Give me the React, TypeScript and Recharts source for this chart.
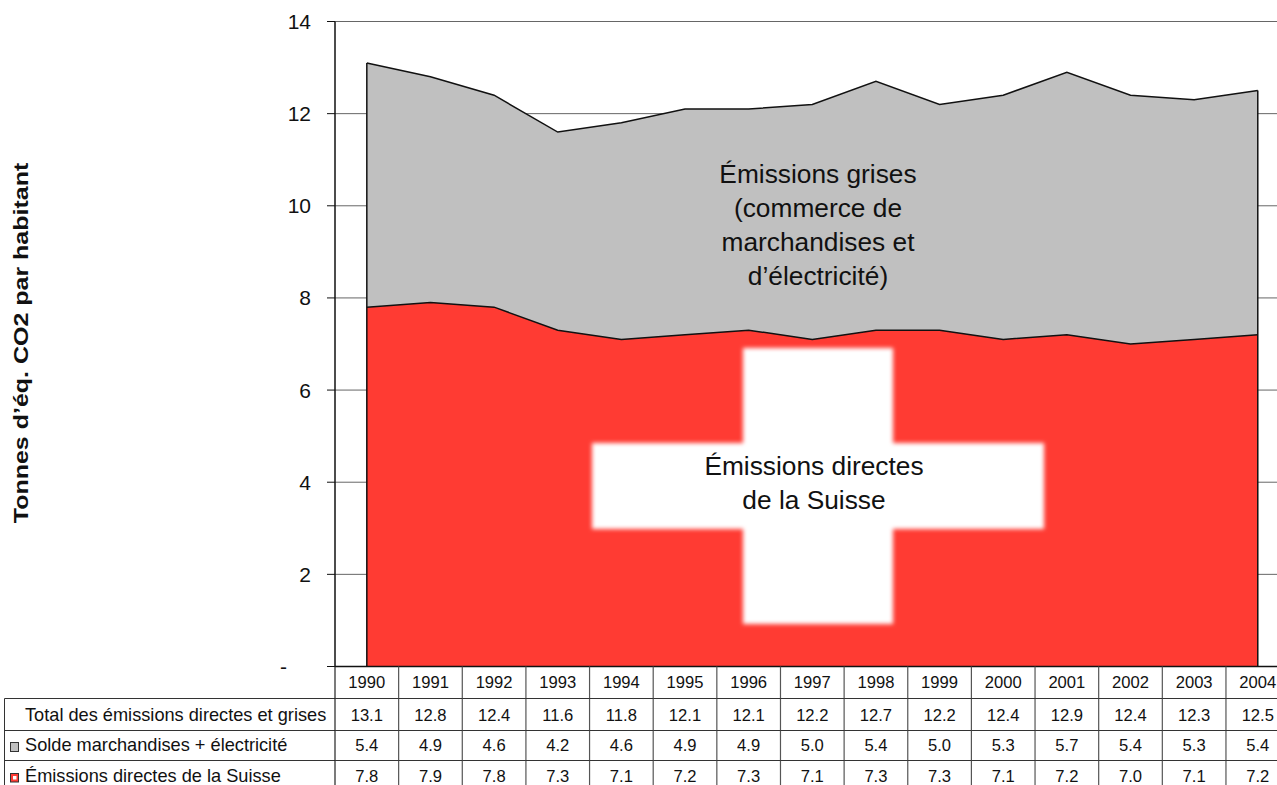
import {
  Area,
  AreaChart,
  CartesianGrid,
  ReferenceLine,
  XAxis,
  YAxis,
} from "recharts"

const years = ["1990", "1991", "1992", "1993", "1994", "1995", "1996", "1997", "1998", "1999", "2000", "2001", "2002", "2003", "2004"]
const totalValues = [13.1, 12.8, 12.4, 11.6, 11.8, 12.1, 12.1, 12.2, 12.7, 12.2, 12.4, 12.9, 12.4, 12.3, 12.5]
const balanceValues = [5.4, 4.9, 4.6, 4.2, 4.6, 4.9, 4.9, 5.0, 5.4, 5.0, 5.3, 5.7, 5.4, 5.3, 5.4]
const directValues = [7.8, 7.9, 7.8, 7.3, 7.1, 7.2, 7.3, 7.1, 7.3, 7.3, 7.1, 7.2, 7.0, 7.1, 7.2]
const yTicks = [0, 2, 4, 6, 8, 10, 12, 14]

const data = years.map((year, i) => ({
  year,
  total: totalValues[i],
  direct: directValues[i],
}))

const FONT = '"Liberation Sans", Arial, sans-serif'
const GREY = "#c0c0c0"
const RED = "#ff3b33"
const LINE = "#555555"
const COL_W = 63.64
const PLOT_LEFT = 335
const PLOT_BOTTOM = 666.5
// row edges of the data table, relative to the plot bottom
const ROW_EDGES = [0, 32, 64, 94, 130]
const ROW_TEXT = [21.5, 54, 84.5, 115]

// One table column, hung on the x axis so it follows the category scale
function TableColumn(props: any) {
  const { x, payload, index } = props
  const left = x - COL_W / 2
  const right = x + COL_W / 2
  const cells = [
    payload.value,
    totalValues[index].toFixed(1),
    balanceValues[index].toFixed(1),
    directValues[index].toFixed(1),
  ]
  return (
    <g>
      <line x1={right} x2={right} y1={PLOT_BOTTOM} y2={PLOT_BOTTOM + 130} stroke={LINE} strokeWidth={1.2} />
      {index === 0 ? (
        <line x1={left} x2={left} y1={PLOT_BOTTOM} y2={PLOT_BOTTOM + 130} stroke="#222" strokeWidth={1.2} />
      ) : null}
      {ROW_EDGES.slice(1, 4).map((e) => (
        <line key={e} x1={left} x2={right} y1={PLOT_BOTTOM + e} y2={PLOT_BOTTOM + e} stroke="#333" strokeWidth={1} />
      ))}
      {cells.map((c, r) => (
        <text key={r} x={x} y={PLOT_BOTTOM + ROW_TEXT[r]} textAnchor="middle" fontSize={16.6} fill="#111" fontFamily={FONT}>
          {c}
        </text>
      ))}
    </g>
  )
}

// The zero tick is a dash set further left, accounting style
function ValueTick(props: any) {
  const { x, y, payload } = props
  const isZero = payload.value === 0
  return (
    <text
      x={isZero ? x - 24 : x}
      y={y + 7.5}
      textAnchor="end"
      fontSize={21}
      fill="#111"
      fontFamily={FONT}
    >
      {isZero ? "-" : payload.value}
    </text>
  )
}

function RowHeaders() {
  const top = PLOT_BOTTOM + ROW_EDGES[1]
  return (
    <g fontFamily={FONT} fontSize={18.2} fill="#111">
      <line x1={4.5} x2={PLOT_LEFT} y1={top} y2={top} stroke="#333" />
      <line x1={4.5} x2={PLOT_LEFT} y1={PLOT_BOTTOM + 64} y2={PLOT_BOTTOM + 64} stroke="#333" />
      <line x1={4.5} x2={PLOT_LEFT} y1={PLOT_BOTTOM + 94} y2={PLOT_BOTTOM + 94} stroke="#333" />
      <line x1={4.5} x2={4.5} y1={top} y2={PLOT_BOTTOM + 130} stroke="#333" />
      <text x={25} y={PLOT_BOTTOM + ROW_TEXT[1]}>Total des émissions directes et grises</text>
      <rect x={10.5} y={742.5} width={8} height={9} fill={GREY} stroke="#333" />
      <text x={25} y={PLOT_BOTTOM + ROW_TEXT[2]}>Solde marchandises + électricité</text>
      <rect x={10.5} y={773.5} width={8} height={8.5} fill={RED} stroke="#333" />
      <rect x={13} y={776} width={3.5} height={3.5} fill="#fff" />
      <text x={25} y={PLOT_BOTTOM + ROW_TEXT[3]}>Émissions directes de la Suisse</text>
    </g>
  )
}

// White cross with soft edges, plus the two area captions; sits on top of the areas
function Annotations() {
  return (
    <svg width={1277} height={785} style={{ position: "absolute", left: 0, top: 0, pointerEvents: "none" }}>
      <defs>
        <filter id="soft" x="-5%" y="-5%" width="110%" height="110%">
          <feGaussianBlur stdDeviation={2} />
        </filter>
      </defs>
      <g fill="#fff" filter="url(#soft)">
        <rect x={743} y={348} width={150} height={276} />
        <rect x={592} y={443} width={452} height={86} />
      </g>
      <g fontFamily={FONT} fontSize={26.3} fill="#111" textAnchor="middle">
        <text x={818} y={183}>Émissions grises</text>
        <text x={818} y={217}>(commerce de</text>
        <text x={818} y={251}>marchandises et</text>
        <text x={818} y={285}>d’électricité)</text>
        <text x={814} y={475}>Émissions directes</text>
        <text x={814} y={509}>de la Suisse</text>
      </g>
      <text
        transform="translate(28 343) rotate(-90) scale(1.19 1)"
        textAnchor="middle"
        fontFamily={FONT}
        fontSize={21}
        fontWeight={700}
        fill="#111"
      >
        Tonnes d’éq. CO2 par habitant
      </text>
    </svg>
  )
}

export default function App() {
  const first = data[0]
  const last = data[data.length - 1]
  return (
    <div style={{ position: "absolute", left: 0, top: 0, width: 1277, height: 785, overflow: "hidden", background: "#fff", fontFamily: FONT }}>
      <AreaChart
        width={1300}
        height={800}
        data={data}
        margin={{ top: 21.5, right: 10.4, bottom: 0, left: 275 }}
      >
        <CartesianGrid vertical={false} stroke="#666" strokeWidth={1} />
        <XAxis
          dataKey="year"
          interval={0}
          height={133.5}
          padding={{ left: COL_W / 2, right: COL_W / 2 }}
          tick={<TableColumn />}
          tickLine={false}
          axisLine={{ stroke: "#111", strokeWidth: 1.5 }}
        />
        <YAxis
          width={60}
          domain={[0, 14]}
          ticks={yTicks}
          interval={0}
          tickSize={8}
          tickMargin={16}
          tick={<ValueTick />}
          tickLine={{ stroke: "#111" }}
          axisLine={{ stroke: "#111", strokeWidth: 1.5 }}
        />
        <Area dataKey="total" type="linear" fill={GREY} fillOpacity={1} stroke="#111" strokeWidth={1.5} dot={false} activeDot={false} isAnimationActive={false} />
        <Area dataKey="direct" type="linear" fill={RED} fillOpacity={1} stroke="#111" strokeWidth={1.5} dot={false} activeDot={false} isAnimationActive={false} />
        <ReferenceLine segment={[{ x: first.year, y: 0 }, { x: first.year, y: first.total }]} stroke="#111" strokeWidth={1.5} />
        <ReferenceLine segment={[{ x: last.year, y: 0 }, { x: last.year, y: last.total }]} stroke="#111" strokeWidth={1.5} />
        <RowHeaders />
      </AreaChart>
      <Annotations />
    </div>
  )
}
